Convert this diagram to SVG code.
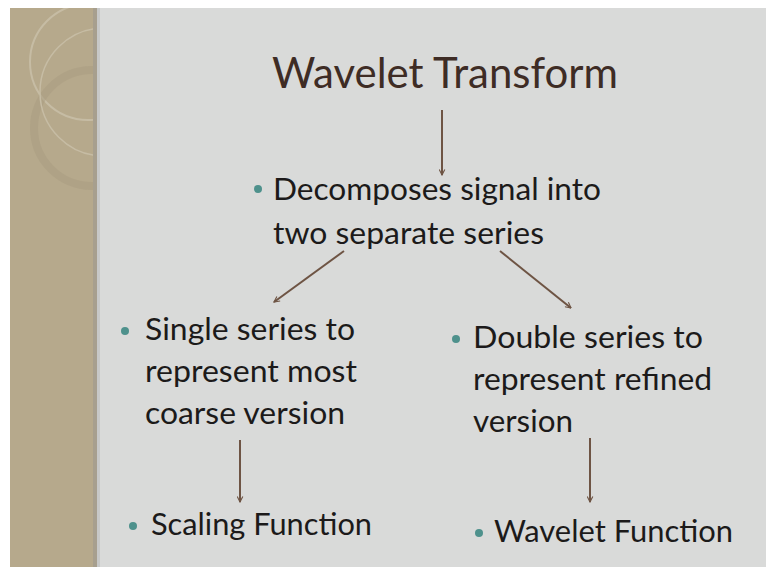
<svg xmlns="http://www.w3.org/2000/svg" width="766" height="580" viewBox="0 0 766 580">
<defs>
<style>
.t{font-family:Lato,"Open Sans","Liberation Sans",sans-serif;fill:#1c1a1a}
.title{font-family:Lato,"Open Sans","Liberation Sans",sans-serif;fill:#3e2c25;font-size:42px}
.b{font-size:31px}
.dot{fill:#4e918c}
.arr{stroke:#6e5444;stroke-width:2;fill:none;marker-end:url(#ah)}
</style>
<marker id="ah" viewBox="0 0 10 10" refX="9" refY="5" markerWidth="7" markerHeight="7" orient="auto" markerUnits="userSpaceOnUse">
<path d="M1,1 L9,5 L1,9" fill="none" stroke="#6e5444" stroke-width="1.6"/>
</marker>
<clipPath id="strip"><rect x="10" y="8" width="84" height="559"/></clipPath>
</defs>
<rect width="766" height="580" fill="#ffffff"/>
<rect x="10" y="8" width="756" height="559" fill="#d9dad9"/>
<rect x="10" y="8" width="84" height="559" fill="#b6a98c"/>
<g clip-path="url(#strip)" fill="none">
<circle cx="88" cy="62" r="58" stroke="#c6bca4" stroke-width="2"/>
<circle cx="92" cy="128" r="58" stroke="#aa9d81" stroke-width="8" opacity="0.55"/>
<circle cx="104" cy="92" r="64" stroke="#c6bca4" stroke-width="1.5"/>
</g>
<rect x="93" y="8" width="4" height="559" fill="#a79f8e"/>
<rect x="97" y="8" width="3" height="559" fill="#c7c8c7"/>

<g id="title"><text class="title" x="272" y="88" textLength="346" lengthAdjust="spacingAndGlyphs">Wavelet Transform</text></g>

<g id="decompose">
<circle class="dot" cx="258" cy="189" r="4"/>
<text class="t b" x="273" y="200" textLength="328" lengthAdjust="spacingAndGlyphs">Decomposes signal into</text>
<text class="t b" x="273" y="244" textLength="271" lengthAdjust="spacingAndGlyphs">two separate series</text>
</g>

<g id="single">
<circle class="dot" cx="125" cy="331" r="4"/>
<text class="t b" x="145" y="340" textLength="210" lengthAdjust="spacingAndGlyphs">Single series to</text>
<text class="t b" x="145" y="382" textLength="212" lengthAdjust="spacingAndGlyphs">represent most</text>
<text class="t b" x="145" y="424" textLength="200" lengthAdjust="spacingAndGlyphs">coarse version</text>
</g>

<g id="double">
<circle class="dot" cx="456" cy="339" r="4"/>
<text class="t b" x="473" y="348" textLength="230" lengthAdjust="spacingAndGlyphs">Double series to</text>
<text class="t b" x="473" y="390" textLength="239" lengthAdjust="spacingAndGlyphs">represent refined</text>
<text class="t b" x="473" y="432" textLength="100" lengthAdjust="spacingAndGlyphs">version</text>
</g>

<g id="scaling">
<circle class="dot" cx="133" cy="526" r="4"/>
<text class="t b" x="151" y="535" textLength="221" lengthAdjust="spacingAndGlyphs">Scaling Function</text>
</g>

<g id="wavelet">
<circle class="dot" cx="479" cy="533" r="4"/>
<text class="t b" x="494" y="542" textLength="239" lengthAdjust="spacingAndGlyphs">Wavelet Function</text>
</g>

<g id="connectors">
<line class="arr" x1="442" y1="110" x2="442" y2="175"/>
<line class="arr" x1="344" y1="251" x2="274" y2="302"/>
<line class="arr" x1="500" y1="251" x2="571" y2="308"/>
<line class="arr" x1="240" y1="440" x2="240" y2="502"/>
<line class="arr" x1="590" y1="438" x2="590" y2="502"/>
</g>
</svg>
